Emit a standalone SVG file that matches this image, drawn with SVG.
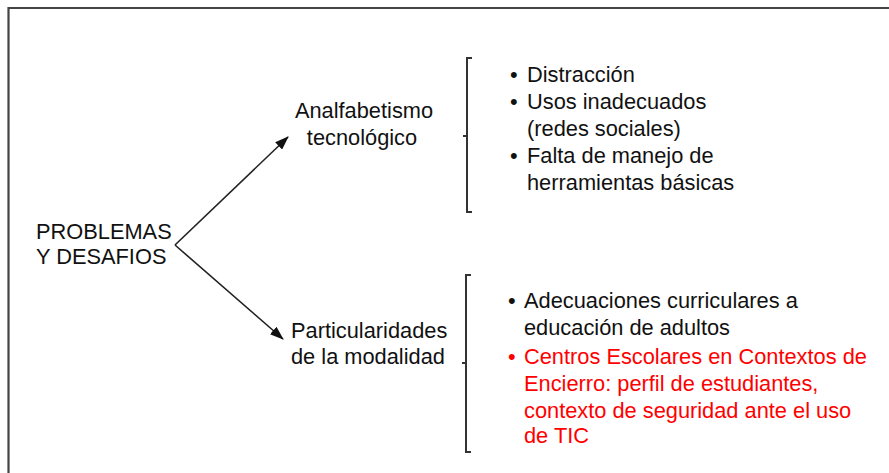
<svg xmlns="http://www.w3.org/2000/svg" width="889" height="473" viewBox="0 0 889 473">
<defs>
<marker id="ah" markerWidth="14" markerHeight="10" refX="13" refY="5" orient="auto" markerUnits="userSpaceOnUse">
<path d="M0,0 L14,5 L0,10 Z" fill="#111"/>
</marker>
<style>
text{font-family:"Liberation Sans",Arial,sans-serif;font-size:21.8px;fill:#111;}
.red{fill:#ff0000;}
.br{fill:none;stroke:#333;stroke-width:2;}
.ar{fill:none;stroke:#222;stroke-width:1.6;}
</style>
</defs>
<rect x="0" y="0" width="889" height="473" fill="#fff"/>
<path d="M8.5,480 L8.5,8 L900,8" fill="none" stroke="#444" stroke-width="2.2"/>
<g id="root">
<text x="36" y="239">PROBLEMAS</text>
<text x="36" y="264">Y DESAFIOS</text>
</g>
<g id="connectors">
<line class="ar" x1="175" y1="245" x2="288" y2="137" marker-end="url(#ah)"/>
<line class="ar" x1="175" y1="245" x2="283" y2="339" marker-end="url(#ah)"/>
</g>
<g id="analfabetismo">
<text x="364" y="118" text-anchor="middle">Analfabetismo</text>
<text x="362" y="145" text-anchor="middle">tecnológico</text>
</g>
<g id="particularidades">
<text x="291" y="338">Particularidades</text>
<text x="291" y="364">de la modalidad</text>
</g>
<g id="bracket1">
<path class="br" d="M472,58 L467,58 L467,212 L472,212 M467,136 L463,136"/>
</g>
<g id="list1">
<text x="510" y="82">•</text><text x="527" y="82">Distracción</text>
<text x="510" y="109">•</text><text x="527" y="109">Usos inadecuados</text>
<text x="527" y="136">(redes sociales)</text>
<text x="510" y="163">•</text><text x="527" y="163">Falta de manejo de</text>
<text x="527" y="190">herramientas básicas</text>
</g>
<g id="bracket2">
<path class="br" d="M471,275 L466,275 L466,452 L471,452 M466,363 L462,363"/>
</g>
<g id="list2">
<text x="508" y="308">•</text><text x="524" y="308">Adecuaciones curriculares a</text>
<text x="524" y="335">educación de adultos</text>
<text x="508" y="364" class="red">•</text><text x="524" y="364" class="red">Centros Escolares en Contextos de</text>
<text x="524" y="391" class="red">Encierro: perfil de estudiantes,</text>
<text x="524" y="418" class="red">contexto de seguridad ante el uso</text>
<text x="524" y="443" class="red">de TIC</text>
</g>
</svg>
